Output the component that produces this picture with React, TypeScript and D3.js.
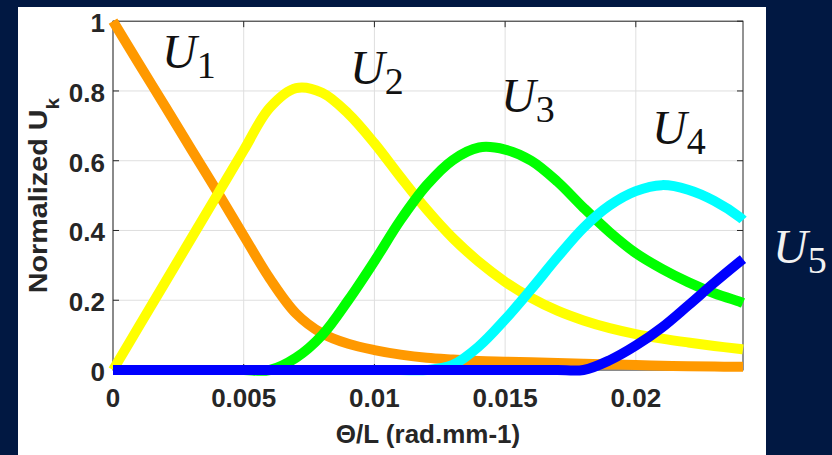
import React from "react";
import * as d3 from "d3";

const thetaL = [0, 0.001, 0.002, 0.003, 0.004, 0.005, 0.006, 0.007, 0.008, 0.009, 0.01, 0.011, 0.012, 0.013, 0.014, 0.015, 0.016, 0.017, 0.018, 0.019, 0.02, 0.021, 0.022, 0.023, 0.024, 0.0241];

const u1 = [1.0, 0.877, 0.755, 0.632, 0.51, 0.385, 0.262, 0.162, 0.105, 0.075, 0.057, 0.044, 0.035, 0.03, 0.026, 0.024, 0.022, 0.02, 0.018, 0.016, 0.014, 0.012, 0.011, 0.01, 0.009, 0.009];
const u2 = [0, 0.126, 0.252, 0.378, 0.504, 0.63, 0.752, 0.808, 0.795, 0.735, 0.65, 0.553, 0.46, 0.378, 0.31, 0.253, 0.207, 0.17, 0.142, 0.12, 0.103, 0.09, 0.079, 0.069, 0.06, 0.059];
const u3 = [0, 0, 0, 0, 0, 0, 0, 0.035, 0.1, 0.2, 0.312, 0.43, 0.53, 0.602, 0.638, 0.632, 0.6, 0.54, 0.465, 0.395, 0.335, 0.29, 0.252, 0.22, 0.195, 0.192];
const u4 = [0, 0, 0, 0, 0, 0, 0, 0, 0, 0, 0, 0, 0, 0.015, 0.068, 0.145, 0.232, 0.323, 0.408, 0.472, 0.513, 0.53, 0.517, 0.485, 0.437, 0.43];
const u5 = [0, 0, 0, 0, 0, 0, 0, 0, 0, 0, 0, 0, 0, 0, 0, 0, 0, 0, 0, 0.028, 0.07, 0.122, 0.185, 0.25, 0.312, 0.318];

const seriesNames = ["U1", "U2", "U3", "U4", "U5"];
const seriesColors = ["#ff9900", "#ffff00", "#00ff00", "#00ffff", "#0000ff"];

const xTicks = [0, 0.005, 0.01, 0.015, 0.02];
const xTickLabels = ["0", "0.005", "0.01", "0.015", "0.02"];
const yTicks = [0, 0.2, 0.4, 0.6, 0.8, 1];
const yTickLabels = ["0", "0.2", "0.4", "0.6", "0.8", "1"];

const curveLabels = [
  { sub: "1", x: 162, y: 68 },
  { sub: "2", x: 350, y: 84 },
  { sub: "3", x: 501, y: 112 },
  { sub: "4", x: 652, y: 144 },
  { sub: "5", x: 773, y: 263 },
];

export default function App() {
  const W = 832, H = 455;
  const left = 113, right = 743, top = 21.2, bottom = 370;
  const x = d3.scaleLinear().domain([0, 0.0241]).range([left, right]);
  const y = d3.scaleLinear().domain([0, 1]).range([bottom, top]);
  const all = [u1, u2, u3, u4, u5];
  const line = d3
    .line<[number, number]>()
    .x((d) => x(d[0]))
    .y((d) => y(d[1]))
    .curve(d3.curveCatmullRom.alpha(0.5));
  const axisColor = "#262626";
  const gridColor = "#dfdfdf";
  const tickLen = 6;
  const font = "'Liberation Sans', Arial, Helvetica, sans-serif";
  const serif = "'Liberation Serif', 'Times New Roman', serif";

  return (
    <svg width={W} height={H} style={{ position: "absolute", left: 0, top: 0 }}>
      <rect x={0} y={0} width={W} height={H} fill="#011842" />
      <rect x={18} y={7} width={748} height={H - 7} fill="#ffffff" />
      {xTicks.map((t, i) => (
        <line key={"gx" + i} x1={x(t)} x2={x(t)} y1={top} y2={bottom} stroke={gridColor} strokeWidth={1} />
      ))}
      {yTicks.map((t, i) => (
        <line key={"gy" + i} x1={left} x2={right} y1={y(t)} y2={y(t)} stroke={gridColor} strokeWidth={1} />
      ))}
      <rect x={left} y={top} width={right - left} height={bottom - top} fill="none" stroke={axisColor} strokeWidth={1} />
      {xTicks.map((t, i) => (
        <g key={"tx" + i}>
          <line x1={x(t)} x2={x(t)} y1={bottom} y2={bottom - tickLen} stroke={axisColor} />
          <line x1={x(t)} x2={x(t)} y1={top} y2={top + tickLen} stroke={axisColor} />
          <text x={x(t)} y={407} textAnchor="middle" fontFamily={font} fontWeight="bold" fontSize={26} fill={axisColor}>
            {xTickLabels[i]}
          </text>
        </g>
      ))}
      {yTicks.map((t, i) => (
        <g key={"ty" + i}>
          <line x1={left} x2={left + tickLen} y1={y(t)} y2={y(t)} stroke={axisColor} />
          <line x1={right} x2={right - tickLen} y1={y(t)} y2={y(t)} stroke={axisColor} />
          <text x={105} y={y(t) + 11} textAnchor="end" fontFamily={font} fontWeight="bold" fontSize={26} fill={axisColor}>
            {yTickLabels[i]}
          </text>
        </g>
      ))}
      <text x={(left + right) / 2} y={443} textAnchor="middle" fontFamily={font} fontWeight="bold" fontSize={26} fill={axisColor}>
        Θ/L (rad.mm-1)
      </text>
      <text transform={`translate(47,${(top + bottom) / 2}) rotate(-90) scale(1.15,1)`} textAnchor="middle" fontFamily={font} fontWeight="bold" fontSize={25} fill={axisColor}>
        Normalized U<tspan fontSize={18} dy={12}>k</tspan>
      </text>
      {all.map((vals, si) => (
        <path
          key={seriesNames[si]}
          d={line(thetaL.map((t, i) => [t, vals[i]] as [number, number])) || ""}
          fill="none"
          stroke={seriesColors[si]}
          strokeWidth={10}
          strokeLinecap="butt"
          strokeLinejoin="round"
        />
      ))}
      {curveLabels.map((c, i) => (
        <text key={"cl" + i} x={c.x} y={c.y} fontFamily={serif} fontSize={48} fill={i === 4 ? "#f2f2f2" : "#111111"}>
          <tspan fontStyle="italic">U</tspan>
          <tspan fontSize={38} dy={10}>{c.sub}</tspan>
        </text>
      ))}
    </svg>
  );
}
